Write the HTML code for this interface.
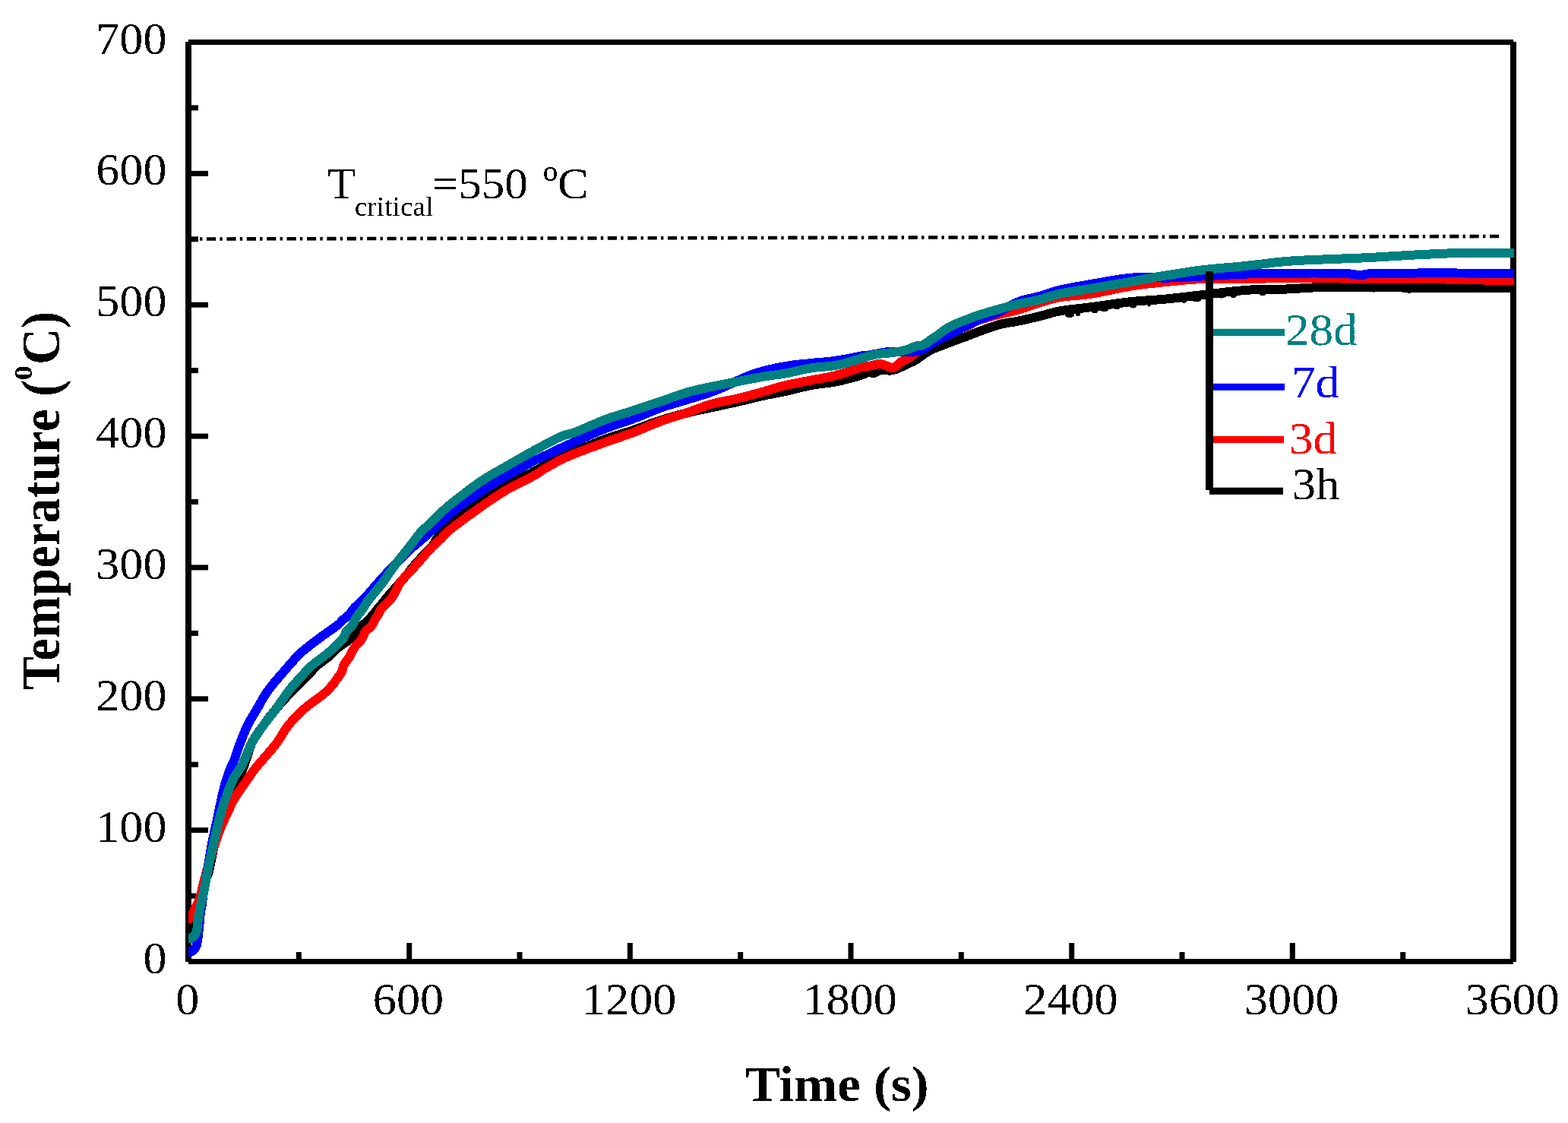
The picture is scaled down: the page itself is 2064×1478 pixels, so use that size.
<!DOCTYPE html><html><head><meta charset="utf-8"><title>Temperature vs Time</title>
<style>html,body{margin:0;padding:0;background:#fff;}svg{display:block;}text{font-family:"Liberation Serif","Times New Roman",serif;}</style></head><body>
<svg width="2064" height="1478" viewBox="0 0 2064 1478">
<rect width="2064" height="1478" fill="#fff"/>
<defs><clipPath id="pc"><rect x="248.0" y="0" width="1745.5" height="1478"/></clipPath><filter id="crisp" x="-5%" y="-20%" width="110%" height="140%"><feComponentTransfer><feFuncA type="discrete" tableValues="0 1"/></feComponentTransfer></filter></defs>
<g fill="#000">
<rect x="244" y="55" width="8" height="1211"/>
<rect x="248" y="52" width="1744" height="7"/>
<rect x="1988" y="55" width="8" height="1211"/>
<rect x="248" y="1262" width="1744" height="7"/>
<rect x="252" y="1175.6" width="9" height="7"/>
<rect x="252" y="1089.1" width="22" height="7"/>
<rect x="252" y="1002.7" width="9" height="7"/>
<rect x="252" y="916.3" width="22" height="7"/>
<rect x="252" y="829.9" width="9" height="7"/>
<rect x="252" y="743.4" width="22" height="7"/>
<rect x="252" y="657.0" width="9" height="7"/>
<rect x="252" y="570.6" width="22" height="7"/>
<rect x="252" y="484.1" width="9" height="7"/>
<rect x="252" y="397.7" width="22" height="7"/>
<rect x="252" y="311.3" width="9" height="7"/>
<rect x="252" y="224.9" width="22" height="7"/>
<rect x="252" y="138.4" width="9" height="7"/>
<rect x="389.8" y="1253" width="7" height="9"/>
<rect x="535.2" y="1241" width="7" height="21"/>
<rect x="680.5" y="1253" width="7" height="9"/>
<rect x="825.8" y="1241" width="7" height="21"/>
<rect x="971.2" y="1253" width="7" height="9"/>
<rect x="1116.5" y="1241" width="7" height="21"/>
<rect x="1261.8" y="1253" width="7" height="9"/>
<rect x="1407.2" y="1241" width="7" height="21"/>
<rect x="1552.5" y="1253" width="7" height="9"/>
<rect x="1697.8" y="1241" width="7" height="21"/>
<rect x="1843.2" y="1253" width="7" height="9"/>
</g>
<g filter="url(#crisp)">
<g fill="#000">
<text transform="translate(219.50,1280.50) scale(1.0530,1)" font-size="59.00" text-anchor="end">0</text>
<text transform="translate(219.50,1107.64) scale(1.0530,1)" font-size="59.00" text-anchor="end">100</text>
<text transform="translate(219.50,934.79) scale(1.0530,1)" font-size="59.00" text-anchor="end">200</text>
<text transform="translate(219.50,761.93) scale(1.0530,1)" font-size="59.00" text-anchor="end">300</text>
<text transform="translate(219.50,589.07) scale(1.0530,1)" font-size="59.00" text-anchor="end">400</text>
<text transform="translate(219.50,416.21) scale(1.0530,1)" font-size="59.00" text-anchor="end">500</text>
<text transform="translate(219.50,243.36) scale(1.0530,1)" font-size="59.00" text-anchor="end">600</text>
<text transform="translate(219.50,70.50) scale(1.0530,1)" font-size="59.00" text-anchor="end">700</text>
<text transform="translate(246.80,1335.00) scale(1.0530,1)" font-size="59.00" text-anchor="middle">0</text>
<text transform="translate(537.47,1335.00) scale(1.0530,1)" font-size="59.00" text-anchor="middle">600</text>
<text transform="translate(828.13,1335.00) scale(1.0530,1)" font-size="59.00" text-anchor="middle">1200</text>
<text transform="translate(1118.80,1335.00) scale(1.0530,1)" font-size="59.00" text-anchor="middle">1800</text>
<text transform="translate(1409.47,1335.00) scale(1.0530,1)" font-size="59.00" text-anchor="middle">2400</text>
<text transform="translate(1700.13,1335.00) scale(1.0530,1)" font-size="59.00" text-anchor="middle">3000</text>
<text transform="translate(1990.80,1335.00) scale(1.0530,1)" font-size="59.00" text-anchor="middle">3600</text>
</g>
<text transform="translate(981.00,1449.00) scale(1.0600,1)" font-size="65.00" text-anchor="start" font-weight="bold">Time (s)</text>
<text transform="translate(78.00,908.00) rotate(-90) scale(0.9370,1.0200)" font-size="71.00" font-weight="bold">Temperature (<tspan dx="21.00">C)</tspan></text>
<text transform="translate(41.70,500.50) rotate(-90) scale(1.3000,1.1000)" font-size="30.00" font-weight="bold">0</text>
<text transform="translate(431.00,261.00) scale(1.0520,1)" font-size="58.00">T<tspan font-size="35.50" dx="-1.4" dy="23.00">critical</tspan><tspan dx="-1.5" dy="-23.00">=550 </tspan><tspan font-size="38.00" dy="-23.00" dx="4.30">o</tspan><tspan dy="23.00" dx="-0.50">C</tspan></text>
</g>
<line x1="263" y1="314.5" x2="1973.2" y2="311" stroke="#000" stroke-width="4.6" stroke-dasharray="3.4 5.6 12.2 5.19"/>
<g clip-path="url(#pc)" shape-rendering="crispEdges" fill="none" stroke-width="12" stroke-linejoin="round" stroke-linecap="butt">
<path d="M238.0 1227.0 L239.2 1227.2 L240.8 1227.5 L242.8 1227.8 L244.7 1228.1 L246.6 1228.2 L248.0 1228.0 L249.0 1227.6 L249.8 1227.0 L250.4 1226.2 L250.9 1225.3 L251.4 1224.2 L252.0 1223.0 L252.7 1221.5 L253.4 1219.9 L254.1 1218.1 L254.7 1216.1 L255.4 1214.1 L256.0 1212.0 L256.6 1209.8 L257.1 1207.5 L257.6 1205.1 L258.0 1202.6 L258.5 1200.3 L259.0 1198.0 L259.5 1195.9 L260.0 1193.8 L260.4 1191.8 L260.9 1189.8 L261.4 1187.9 L262.0 1186.0 L262.6 1184.3 L263.3 1182.7 L263.9 1181.2 L264.6 1179.7 L265.3 1178.0 L266.0 1176.0 L266.7 1173.7 L267.3 1171.0 L267.9 1168.2 L268.6 1165.4 L269.3 1162.6 L270.0 1160.0 L270.8 1157.7 L271.6 1155.6 L272.4 1153.6 L273.3 1151.5 L274.2 1149.1 L275.0 1146.2 L275.8 1142.7 L276.6 1138.9 L277.5 1134.7 L278.3 1130.3 L279.1 1126.0 L280.0 1121.8 L280.9 1117.7 L281.8 1113.7 L282.7 1109.6 L283.6 1105.5 L284.5 1101.5 L285.5 1097.4 L286.4 1093.3 L287.4 1089.3 L288.3 1085.2 L289.3 1081.2 L290.4 1077.2 L291.5 1073.1 L292.7 1069.0 L293.9 1064.7 L295.2 1060.5 L296.6 1056.4 L298.0 1052.4 L299.5 1048.7 L301.1 1045.2 L302.9 1042.0 L304.8 1038.9 L306.7 1035.9 L308.4 1033.1 L310.0 1030.5 L311.4 1028.2 L312.6 1026.1 L313.7 1024.2 L314.8 1022.4 L315.9 1020.3 L317.0 1018.0 L318.2 1015.4 L319.3 1012.6 L320.5 1009.6 L321.6 1006.5 L322.8 1003.3 L324.0 1000.0 L325.1 996.6 L326.2 993.0 L327.2 989.3 L328.4 985.6 L329.7 981.8 L331.4 978.0 L333.4 974.2 L335.7 970.4 L338.2 966.6 L340.9 962.7 L343.6 958.8 L346.4 955.0 L349.2 951.2 L352.0 947.3 L354.9 943.5 L357.9 939.7 L361.0 935.8 L364.2 932.0 L367.5 928.1 L370.9 924.3 L374.4 920.4 L377.9 916.5 L381.5 912.7 L385.0 909.0 L388.6 905.3 L392.3 901.5 L396.1 897.8 L399.7 894.3 L403.0 891.0 L406.0 888.0 L408.5 885.4 L410.5 883.2 L412.3 881.2 L414.0 879.4 L415.7 877.5 L417.8 875.6 L420.2 873.6 L422.7 871.7 L425.4 869.8 L428.0 867.8 L430.6 865.9 L433.0 864.0 L435.2 862.1 L437.1 860.1 L439.0 858.1 L440.9 856.2 L443.0 854.2 L445.2 852.3 L447.8 850.3 L450.6 848.3 L453.5 846.3 L456.4 844.4 L459.1 842.5 L461.5 840.7 L463.5 839.0 L465.3 837.4 L466.9 835.9 L468.4 834.4 L469.7 832.9 L471.0 831.5 L472.1 830.1 L473.0 828.8 L473.8 827.6 L474.6 826.3 L475.5 825.1 L476.5 823.8 L477.8 822.5 L479.2 821.2 L480.7 819.9 L482.2 818.6 L483.7 817.3 L485.0 816.0 L486.2 814.7 L487.4 813.4 L488.4 812.1 L489.5 810.9 L490.5 809.6 L491.6 808.3 L492.7 807.0 L493.7 805.7 L494.7 804.4 L495.7 803.1 L496.7 801.8 L497.8 800.5 L498.9 799.2 L500.0 797.9 L501.1 796.6 L502.2 795.4 L503.3 794.1 L504.4 792.8 L505.3 791.7 L505.9 790.8 L506.5 790.0 L507.4 788.9 L508.7 787.3 L510.6 785.0 L513.5 781.7 L517.1 777.6 L521.2 773.0 L525.3 768.3 L529.2 763.8 L532.5 760.0 L535.2 756.8 L537.5 753.9 L539.5 751.3 L541.4 748.9 L543.2 746.7 L545.0 744.5 L546.8 742.4 L548.5 740.5 L550.0 738.7 L551.5 737.0 L553.0 735.5 L554.3 734.0 L555.5 732.7 L556.5 731.6 L557.4 730.6 L558.3 729.7 L559.3 728.6 L560.5 727.4 L561.8 726.1 L563.2 724.8 L564.7 723.4 L566.2 721.9 L567.8 720.1 L569.5 718.0 L571.2 715.5 L572.8 712.8 L574.4 709.7 L576.3 706.6 L578.4 703.4 L581.0 700.3 L583.9 697.3 L587.1 694.3 L590.7 691.2 L594.5 688.1 L598.6 684.9 L603.0 681.5 L607.9 678.0 L613.2 674.2 L618.9 670.4 L624.7 666.6 L630.4 662.7 L636.0 659.0 L641.4 655.3 L646.7 651.5 L652.1 647.8 L657.4 644.2 L662.7 640.7 L668.0 637.5 L673.5 634.5 L679.1 631.7 L684.8 629.1 L690.2 626.6 L695.4 624.3 L700.0 622.0 L704.0 619.9 L707.6 618.0 L710.8 616.2 L713.8 614.5 L716.8 612.8 L720.0 611.0 L723.4 609.1 L726.7 607.2 L730.1 605.2 L733.5 603.3 L736.8 601.6 L740.0 600.0 L742.9 598.8 L745.4 597.8 L747.9 597.0 L750.6 596.1 L753.9 595.0 L758.0 593.5 L763.2 591.4 L769.2 589.0 L775.8 586.3 L782.6 583.5 L789.4 580.8 L796.0 578.3 L802.4 576.1 L808.7 574.0 L815.1 572.0 L821.5 570.0 L827.8 568.1 L834.0 566.0 L840.1 563.8 L846.2 561.6 L852.2 559.3 L858.2 557.1 L864.1 555.0 L870.0 553.0 L875.8 551.2 L881.5 549.5 L887.1 547.9 L892.7 546.4 L898.4 544.9 L904.0 543.5 L909.7 542.1 L915.3 540.8 L921.0 539.6 L926.7 538.4 L932.3 537.2 L938.0 536.0 L943.7 534.8 L949.3 533.6 L955.0 532.3 L960.7 531.1 L966.3 529.9 L972.0 528.6 L977.7 527.3 L983.6 525.9 L989.4 524.4 L995.1 523.0 L1000.7 521.7 L1006.0 520.5 L1010.9 519.5 L1015.6 518.6 L1020.0 517.7 L1024.4 516.9 L1029.1 516.0 L1034.0 515.0 L1039.3 513.8 L1044.9 512.4 L1050.6 511.0 L1056.4 509.5 L1062.3 508.2 L1068.0 507.0 L1073.7 506.0 L1079.3 505.3 L1085.0 504.6 L1090.7 503.9 L1096.3 503.0 L1102.0 502.0 L1108.0 500.7 L1114.4 499.1 L1120.8 497.4 L1126.8 495.8 L1132.0 494.3 L1136.0 493.0 L1138.5 492.0 L1139.7 491.1 L1140.2 490.3 L1140.3 489.7 L1140.5 489.3 L1141.2 489.0 L1142.4 489.1 L1143.8 489.4 L1145.3 490.0 L1146.8 490.6 L1148.4 490.9 L1150.0 491.0 L1151.5 490.6 L1153.0 490.0 L1154.5 489.1 L1156.2 488.3 L1158.0 487.5 L1160.0 487.0 L1162.2 486.9 L1164.7 487.1 L1167.2 487.3 L1170.0 487.6 L1172.9 487.5 L1176.0 487.0 L1179.5 485.9 L1183.4 484.3 L1187.6 482.5 L1191.6 480.6 L1195.1 478.8 L1198.0 477.5 L1200.0 476.6 L1201.3 476.0 L1202.2 475.6 L1203.0 475.2 L1203.8 474.7 L1205.0 474.0 L1206.5 473.0 L1208.1 471.9 L1209.8 470.7 L1211.5 469.4 L1213.3 468.2 L1215.0 467.0 L1216.7 465.8 L1218.5 464.7 L1220.2 463.5 L1222.0 462.4 L1223.8 461.3 L1225.5 460.4 L1227.2 459.6 L1228.9 458.9 L1230.6 458.2 L1232.2 457.6 L1233.9 457.0 L1235.6 456.4 L1237.3 455.7 L1239.0 455.1 L1240.7 454.4 L1242.4 453.8 L1244.1 453.1 L1245.8 452.5 L1247.5 451.8 L1249.2 451.2 L1251.0 450.5 L1252.7 449.8 L1254.3 449.2 L1255.9 448.6 L1257.4 448.0 L1258.8 447.5 L1260.2 447.0 L1261.5 446.5 L1262.8 446.0 L1264.0 445.6 L1265.0 445.2 L1265.7 445.0 L1266.4 444.8 L1267.3 444.5 L1268.4 444.1 L1270.0 443.5 L1272.1 442.7 L1274.5 441.8 L1277.2 440.7 L1280.2 439.6 L1283.5 438.3 L1287.0 437.0 L1290.9 435.5 L1295.3 433.9 L1299.9 432.2 L1304.6 430.5 L1309.4 428.9 L1314.0 427.5 L1318.5 426.4 L1323.0 425.5 L1327.5 424.7 L1332.0 424.0 L1336.5 423.3 L1341.0 422.4 L1345.5 421.5 L1350.0 420.5 L1354.4 419.5 L1358.9 418.4 L1363.4 417.4 L1368.0 416.3 L1372.4 415.2 L1376.7 413.9 L1381.1 412.7 L1385.6 411.5 L1390.5 410.3 L1396.0 409.2 L1402.1 408.2 L1408.7 407.4 L1415.7 406.6 L1423.0 405.8 L1430.4 404.9 L1438.0 404.0 L1445.8 402.9 L1453.9 401.8 L1462.1 400.6 L1470.5 399.4 L1478.8 398.3 L1487.0 397.3 L1495.0 396.5 L1503.0 395.9 L1511.0 395.3 L1519.0 394.8 L1527.0 394.2 L1535.0 393.5 L1543.0 392.7 L1551.0 391.8 L1558.9 390.9 L1567.0 389.9 L1575.3 389.0 L1584.0 388.0 L1593.1 386.9 L1602.7 385.8 L1612.5 384.6 L1622.3 383.5 L1632.0 382.6 L1641.2 381.8 L1650.0 381.3 L1658.5 381.1 L1666.9 381.0 L1675.1 380.9 L1683.3 380.8 L1691.6 380.6 L1699.7 380.2 L1707.7 379.7 L1715.6 379.2 L1723.6 378.7 L1732.0 378.3 L1741.0 378.0 L1750.6 377.8 L1760.7 377.8 L1771.2 377.8 L1781.8 377.9 L1792.5 377.9 L1803.0 378.0 L1813.4 378.1 L1823.9 378.2 L1834.4 378.3 L1845.0 378.5 L1855.5 378.6 L1866.0 378.7 L1876.5 378.8 L1887.0 378.9 L1897.4 378.9 L1907.9 379.0 L1918.4 379.0 L1929.0 379.0 L1940.3 379.0 L1952.6 378.9 L1964.9 378.9 L1976.4 378.8 L1986.0 378.7 L1993.0 378.7" stroke="#000000"/>
<g fill="#000" stroke="none"><ellipse cx="1408.0" cy="414.2" rx="6.3" ry="4"/><ellipse cx="1419.0" cy="412.2" rx="3.0" ry="4"/><ellipse cx="1441.0" cy="408.4" rx="4.4" ry="4"/><ellipse cx="1453.5" cy="406.4" rx="6.3" ry="4"/><ellipse cx="1470.0" cy="403.5" rx="4.4" ry="4"/><ellipse cx="1491.3" cy="401.6" rx="5.3" ry="4"/><ellipse cx="1512.5" cy="399.6" rx="2.5" ry="4"/><ellipse cx="1543.0" cy="394.8" rx="2.0" ry="4"/><ellipse cx="1558.6" cy="394.8" rx="3.9" ry="4"/><ellipse cx="1575.0" cy="393.5" rx="6.8" ry="4"/><ellipse cx="1607.7" cy="388.6" rx="5.8" ry="4"/><ellipse cx="1623.5" cy="388.0" rx="5.0" ry="4"/><ellipse cx="1662.0" cy="385.4" rx="4.5" ry="4"/><ellipse cx="1808.0" cy="381.0" rx="2.5" ry="4"/><ellipse cx="1855.0" cy="381.7" rx="8.0" ry="4"/><ellipse cx="1913.0" cy="381.0" rx="3.0" ry="4"/><ellipse cx="1936.5" cy="381.0" rx="2.5" ry="4"/></g>
<path d="M238.0 1209.5 L239.2 1209.5 L240.8 1209.6 L242.8 1209.7 L244.7 1209.8 L246.6 1209.7 L248.0 1209.5 L249.0 1209.2 L249.8 1208.7 L250.4 1208.2 L251.0 1207.6 L251.5 1206.8 L252.0 1206.0 L252.6 1205.0 L253.1 1203.9 L253.6 1202.7 L254.0 1201.4 L254.5 1200.1 L255.0 1199.0 L255.5 1197.9 L256.0 1196.9 L256.5 1195.9 L257.0 1195.0 L257.5 1194.0 L258.0 1193.0 L258.5 1192.0 L259.0 1191.0 L259.6 1189.9 L260.1 1188.9 L260.6 1187.9 L261.0 1187.0 L261.4 1186.1 L261.7 1185.3 L262.1 1184.6 L262.4 1183.8 L262.7 1182.9 L263.0 1182.0 L263.3 1181.0 L263.6 1180.0 L263.9 1179.0 L264.3 1177.9 L264.6 1176.5 L265.0 1175.0 L265.4 1173.3 L265.8 1171.4 L266.2 1169.4 L266.7 1167.2 L267.3 1164.8 L268.0 1162.0 L268.8 1158.9 L269.7 1155.4 L270.7 1151.7 L271.8 1147.8 L272.9 1143.9 L274.0 1140.0 L275.1 1136.1 L276.3 1132.1 L277.5 1128.0 L278.7 1123.9 L280.0 1119.8 L281.3 1115.7 L282.6 1111.7 L284.0 1107.6 L285.3 1103.6 L286.7 1099.5 L288.2 1095.5 L289.8 1091.4 L291.5 1087.3 L293.3 1083.0 L295.2 1078.8 L297.1 1074.7 L298.9 1070.7 L300.7 1067.0 L302.3 1063.6 L303.8 1060.4 L305.2 1057.5 L306.7 1054.6 L308.3 1051.7 L310.0 1048.7 L311.9 1045.7 L313.9 1042.6 L316.0 1039.6 L318.2 1036.6 L320.4 1033.5 L322.5 1030.5 L324.7 1027.3 L327.0 1023.9 L329.4 1020.6 L331.6 1017.4 L333.6 1014.5 L335.3 1012.2 L336.3 1010.8 L336.7 1010.2 L336.9 1010.0 L337.3 1009.6 L338.2 1008.6 L340.0 1006.5 L343.0 1003.0 L347.0 998.5 L351.5 993.3 L356.1 987.9 L360.5 982.7 L364.2 978.0 L367.1 973.8 L369.6 969.9 L371.8 966.2 L374.0 962.5 L376.4 958.8 L379.2 955.0 L382.4 951.2 L385.8 947.3 L389.4 943.5 L393.3 939.7 L397.3 935.8 L401.5 932.0 L406.1 928.2 L411.2 924.3 L416.5 920.5 L421.7 916.7 L426.6 912.8 L430.9 909.0 L434.7 905.0 L438.2 900.9 L441.4 896.7 L444.2 892.7 L446.7 889.1 L448.7 886.0 L450.1 883.6 L450.8 881.6 L451.2 880.1 L451.4 878.7 L451.7 877.3 L452.4 875.6 L453.5 873.7 L454.8 871.8 L456.2 869.9 L457.6 867.9 L459.0 866.0 L460.3 864.0 L461.4 862.1 L462.4 860.1 L463.3 858.1 L464.3 856.2 L465.4 854.2 L466.6 852.3 L468.1 850.3 L469.8 848.3 L471.7 846.3 L473.5 844.4 L475.1 842.5 L476.5 840.7 L477.5 839.0 L478.2 837.4 L478.8 835.9 L479.4 834.4 L480.0 832.9 L480.9 831.5 L482.1 830.1 L483.4 828.8 L484.9 827.6 L486.4 826.3 L487.7 825.1 L488.9 823.8 L489.8 822.5 L490.6 821.2 L491.3 819.9 L491.9 818.6 L492.6 817.3 L493.3 816.0 L494.1 814.7 L494.9 813.4 L495.8 812.1 L496.6 810.9 L497.4 809.6 L498.2 808.3 L498.8 807.1 L499.3 805.9 L499.8 804.8 L500.3 803.6 L501.2 802.2 L502.4 800.5 L504.1 798.6 L506.2 796.6 L508.6 794.4 L511.1 792.0 L513.5 789.4 L515.8 786.6 L517.9 783.4 L519.8 779.9 L521.7 776.2 L523.6 772.4 L525.8 768.6 L528.3 764.9 L531.2 761.3 L534.4 757.7 L537.7 754.1 L541.2 750.5 L544.7 746.9 L548.0 743.3 L551.3 739.6 L554.6 735.7 L557.9 731.9 L561.1 728.2 L564.2 724.7 L567.0 721.6 L569.6 718.9 L572.1 716.6 L574.5 714.5 L576.7 712.6 L578.7 710.8 L580.6 709.0 L582.2 707.3 L583.6 705.8 L584.8 704.4 L586.0 703.0 L587.3 701.6 L589.0 700.0 L590.8 698.4 L592.5 697.0 L594.5 695.4 L596.7 693.7 L599.5 691.6 L603.0 689.0 L607.4 685.7 L612.6 681.9 L618.4 677.6 L624.4 673.3 L630.3 669.0 L636.0 665.0 L641.4 661.3 L646.7 657.6 L652.1 654.0 L657.4 650.5 L662.7 647.2 L668.0 644.0 L673.5 641.0 L679.1 638.0 L684.8 635.3 L690.2 632.6 L695.4 630.0 L700.0 627.6 L704.0 625.3 L707.6 623.1 L710.8 621.1 L713.8 619.1 L716.8 617.1 L720.0 615.2 L723.4 613.3 L726.7 611.4 L730.1 609.5 L733.5 607.7 L736.8 606.0 L740.0 604.4 L742.9 603.0 L745.4 601.8 L747.9 600.7 L750.6 599.5 L753.9 598.1 L758.0 596.5 L763.2 594.5 L769.2 592.2 L775.8 589.7 L782.6 587.2 L789.4 584.7 L796.0 582.3 L802.4 580.0 L808.7 577.9 L815.1 575.7 L821.5 573.5 L827.8 571.3 L834.0 569.0 L840.1 566.6 L846.2 564.1 L852.2 561.5 L858.2 559.0 L864.1 556.6 L870.0 554.3 L875.8 552.2 L881.5 550.4 L887.1 548.6 L892.7 546.8 L898.4 545.0 L904.0 543.2 L909.7 541.2 L915.3 539.1 L921.0 537.1 L926.7 535.0 L932.3 533.1 L938.0 531.4 L943.7 530.0 L949.3 528.7 L955.0 527.6 L960.7 526.6 L966.3 525.5 L972.0 524.2 L977.7 522.8 L983.6 521.3 L989.4 519.7 L995.1 518.1 L1000.7 516.6 L1006.0 515.1 L1010.9 513.7 L1015.6 512.3 L1020.0 511.0 L1024.4 509.6 L1029.1 508.3 L1034.0 507.1 L1039.3 505.9 L1044.9 504.8 L1050.6 503.7 L1056.4 502.6 L1062.3 501.5 L1068.0 500.4 L1073.7 499.3 L1079.3 498.3 L1085.0 497.3 L1090.7 496.2 L1096.3 495.0 L1102.0 493.6 L1108.0 491.9 L1114.4 489.9 L1120.8 487.7 L1126.8 485.7 L1132.0 483.9 L1136.0 482.7 L1138.4 482.1 L1139.5 482.0 L1139.7 482.1 L1139.7 482.4 L1140.1 482.6 L1141.2 482.5 L1143.3 482.0 L1145.9 481.4 L1148.9 480.6 L1151.8 479.9 L1154.6 479.3 L1157.0 479.0 L1158.9 479.0 L1160.5 479.2 L1161.9 479.6 L1163.2 480.1 L1164.5 480.5 L1166.0 481.0 L1167.6 481.6 L1169.2 482.3 L1170.9 483.1 L1172.6 483.8 L1174.3 484.1 L1176.0 484.0 L1177.7 483.3 L1179.4 482.1 L1181.2 480.6 L1182.9 478.9 L1184.7 477.3 L1186.5 476.0 L1188.3 475.0 L1190.0 474.2 L1191.7 473.4 L1193.6 472.6 L1195.6 471.5 L1198.0 470.0 L1200.7 468.0 L1203.6 465.6 L1206.8 463.0 L1210.1 460.3 L1213.5 457.5 L1217.0 455.0 L1220.5 452.6 L1224.1 450.1 L1227.7 447.8 L1231.6 445.4 L1235.6 443.1 L1240.0 441.0 L1244.9 439.0 L1250.5 437.0 L1256.2 435.1 L1261.9 433.3 L1267.1 431.6 L1271.5 430.0 L1274.9 428.5 L1277.4 427.1 L1279.5 425.8 L1281.6 424.6 L1283.9 423.3 L1287.0 422.0 L1290.8 420.6 L1295.1 419.3 L1299.8 417.9 L1304.6 416.6 L1309.4 415.2 L1314.0 414.0 L1318.5 412.9 L1323.0 411.8 L1327.5 410.8 L1332.0 409.8 L1336.5 408.7 L1341.0 407.5 L1345.5 406.1 L1350.0 404.7 L1354.4 403.1 L1358.9 401.6 L1363.4 400.0 L1368.0 398.6 L1372.4 397.2 L1376.7 395.9 L1381.1 394.5 L1385.6 393.3 L1390.5 392.1 L1396.0 391.0 L1402.1 390.1 L1408.7 389.5 L1415.7 388.9 L1423.0 388.3 L1430.4 387.5 L1438.0 386.5 L1445.8 385.1 L1453.9 383.5 L1462.1 381.7 L1470.5 379.9 L1478.8 378.3 L1487.0 376.8 L1495.0 375.6 L1503.0 374.5 L1511.0 373.5 L1519.0 372.7 L1527.0 371.8 L1535.0 371.0 L1543.0 370.2 L1551.0 369.4 L1558.9 368.6 L1567.0 368.0 L1575.3 367.4 L1584.0 367.0 L1593.1 366.8 L1602.7 366.7 L1612.5 366.7 L1622.3 366.8 L1632.0 366.8 L1641.2 366.8 L1650.0 366.7 L1658.5 366.6 L1666.9 366.5 L1675.1 366.4 L1683.3 366.3 L1691.6 366.2 L1699.7 366.2 L1707.7 366.1 L1715.6 366.1 L1723.6 366.1 L1732.0 366.1 L1741.0 366.2 L1750.6 366.3 L1760.7 366.4 L1771.2 366.6 L1781.8 366.8 L1792.5 366.9 L1803.0 367.0 L1813.4 367.0 L1823.9 367.0 L1834.4 367.0 L1845.0 367.0 L1855.5 367.0 L1866.0 367.0 L1876.5 367.1 L1887.0 367.2 L1897.4 367.4 L1907.9 367.6 L1918.4 367.8 L1929.0 368.0 L1940.3 368.2 L1952.6 368.5 L1964.9 368.8 L1976.4 369.1 L1986.0 369.3 L1993.0 369.5" stroke="#ff0000"/>
<path d="M238.0 1253.5 L239.1 1253.5 L240.7 1253.6 L242.6 1253.7 L244.6 1253.7 L246.4 1253.6 L248.0 1253.5 L249.3 1253.3 L250.4 1252.9 L251.4 1252.6 L252.3 1252.1 L253.2 1251.6 L254.0 1251.0 L254.8 1250.3 L255.6 1249.6 L256.2 1248.8 L256.9 1248.0 L257.5 1247.0 L258.0 1246.0 L258.5 1244.9 L258.8 1243.7 L259.2 1242.4 L259.4 1241.1 L259.7 1239.6 L260.0 1238.0 L260.3 1236.3 L260.5 1234.4 L260.8 1232.4 L261.0 1230.4 L261.3 1228.2 L261.5 1226.0 L261.8 1223.6 L262.0 1221.1 L262.3 1218.4 L262.5 1215.8 L262.8 1213.3 L263.0 1211.0 L263.2 1208.9 L263.3 1207.0 L263.5 1205.2 L263.6 1203.4 L263.8 1201.7 L264.0 1200.0 L264.3 1198.3 L264.6 1196.6 L265.0 1194.9 L265.4 1193.3 L265.7 1191.7 L266.0 1190.0 L266.2 1188.3 L266.4 1186.6 L266.5 1184.9 L266.7 1183.2 L266.8 1181.6 L267.0 1180.0 L267.2 1178.9 L267.3 1178.3 L267.4 1177.8 L267.6 1176.8 L268.0 1175.0 L268.5 1172.0 L269.3 1167.2 L270.4 1161.0 L271.6 1154.0 L272.8 1146.7 L274.0 1139.9 L275.0 1134.0 L275.8 1129.2 L276.5 1125.0 L277.1 1121.2 L277.6 1117.6 L278.3 1113.9 L279.0 1110.0 L279.8 1105.9 L280.7 1101.7 L281.7 1097.5 L282.6 1093.3 L283.6 1089.1 L284.5 1085.0 L285.4 1080.9 L286.2 1076.9 L287.0 1073.0 L287.8 1069.0 L288.6 1065.0 L289.5 1061.0 L290.4 1056.9 L291.2 1052.9 L292.1 1048.8 L293.0 1044.7 L293.9 1040.6 L295.0 1036.5 L296.2 1032.3 L297.6 1027.8 L299.0 1023.4 L300.5 1019.2 L301.8 1015.3 L303.0 1012.0 L304.0 1009.5 L304.8 1007.8 L305.5 1006.4 L306.2 1005.1 L307.0 1003.4 L308.0 1001.0 L309.2 997.9 L310.4 994.2 L311.8 990.2 L313.2 986.1 L314.6 982.0 L316.1 978.0 L317.6 974.2 L319.1 970.3 L320.6 966.5 L322.2 962.7 L323.9 958.8 L325.7 955.0 L327.7 951.2 L329.8 947.3 L332.0 943.5 L334.3 939.7 L336.6 935.8 L338.9 932.0 L341.1 928.2 L343.3 924.3 L345.4 920.5 L347.7 916.7 L350.1 912.8 L352.7 909.0 L355.6 905.1 L358.9 901.0 L362.2 897.0 L365.6 893.1 L368.8 889.4 L371.7 886.0 L374.3 883.0 L376.7 880.2 L378.9 877.6 L381.0 875.2 L383.0 872.9 L385.0 870.7 L386.8 868.7 L388.4 866.8 L389.9 865.2 L391.4 863.5 L393.1 861.8 L395.0 860.0 L397.2 858.1 L399.4 856.1 L401.9 854.2 L404.4 852.1 L407.2 850.0 L410.0 847.8 L413.1 845.4 L416.5 842.9 L420.0 840.3 L423.5 837.7 L426.9 835.3 L430.0 833.0 L432.9 830.9 L435.7 829.0 L438.4 827.1 L440.8 825.4 L443.1 823.8 L445.0 822.3 L446.5 821.0 L447.6 819.9 L448.5 819.0 L449.3 818.0 L450.2 817.1 L451.3 816.0 L452.7 814.8 L454.2 813.5 L455.8 812.2 L457.4 810.9 L458.9 809.6 L460.2 808.3 L461.3 807.0 L462.3 805.7 L463.1 804.4 L464.0 803.1 L464.9 801.8 L466.0 800.5 L467.2 799.2 L468.6 797.9 L470.0 796.6 L471.4 795.4 L472.8 794.1 L474.2 792.8 L475.4 791.7 L476.3 790.8 L477.2 789.9 L478.4 788.8 L479.8 787.2 L481.9 785.0 L484.7 781.9 L488.0 778.1 L491.7 773.8 L495.6 769.3 L499.4 765.0 L503.0 761.0 L506.4 757.3 L509.8 753.6 L513.2 750.1 L516.5 746.7 L519.5 743.5 L522.3 740.7 L524.7 738.3 L526.9 736.1 L528.8 734.3 L530.6 732.6 L532.3 730.9 L534.0 729.3 L535.6 727.7 L537.1 726.2 L538.5 724.8 L539.8 723.5 L541.2 722.1 L542.6 720.8 L544.1 719.5 L545.5 718.3 L547.0 717.0 L548.5 715.8 L550.0 714.5 L551.6 713.2 L553.1 711.9 L554.6 710.7 L556.1 709.4 L557.7 708.0 L559.7 706.3 L562.0 704.2 L564.8 701.6 L568.1 698.5 L571.7 695.1 L575.4 691.6 L579.1 688.2 L582.6 685.0 L585.9 682.1 L588.9 679.4 L592.0 676.7 L595.3 674.0 L598.9 671.2 L603.0 668.0 L607.8 664.5 L613.1 660.6 L618.8 656.7 L624.6 652.6 L630.4 648.7 L636.0 645.0 L641.4 641.5 L646.7 638.2 L652.1 634.9 L657.4 631.7 L662.7 628.6 L668.0 625.5 L673.5 622.4 L679.1 619.2 L684.8 616.1 L690.2 613.2 L695.4 610.4 L700.0 608.0 L704.0 606.0 L707.6 604.2 L710.8 602.8 L713.8 601.4 L716.8 600.0 L720.0 598.5 L723.4 596.9 L726.7 595.3 L730.1 593.7 L733.5 592.1 L736.8 590.5 L740.0 589.0 L742.9 587.7 L745.4 586.5 L747.9 585.4 L750.6 584.2 L753.9 582.7 L758.0 580.9 L763.2 578.6 L769.2 575.9 L775.8 572.9 L782.6 569.9 L789.4 567.0 L796.0 564.3 L802.4 561.9 L808.7 559.7 L815.1 557.5 L821.5 555.4 L827.8 553.2 L834.0 551.0 L840.3 548.6 L846.7 546.0 L853.1 543.3 L859.2 540.8 L864.9 538.5 L870.0 536.5 L874.1 535.1 L877.1 534.1 L879.7 533.3 L882.5 532.6 L886.1 531.5 L891.2 530.0 L897.9 527.9 L905.9 525.6 L914.6 522.9 L923.8 520.1 L932.9 517.1 L941.6 514.0 L950.0 510.6 L958.4 506.8 L966.8 502.9 L975.0 499.1 L983.1 495.5 L991.0 492.5 L998.6 490.0 L1006.1 487.9 L1013.5 486.2 L1020.6 484.6 L1027.4 483.2 L1034.0 482.0 L1040.2 481.0 L1046.0 480.2 L1051.6 479.6 L1057.0 479.1 L1062.4 478.6 L1068.0 478.0 L1073.7 477.4 L1079.3 476.9 L1085.0 476.4 L1090.7 475.9 L1096.3 475.3 L1102.0 474.5 L1108.0 473.5 L1114.4 472.3 L1120.8 471.0 L1126.8 469.8 L1132.0 468.7 L1136.0 468.0 L1138.3 467.7 L1139.0 467.7 L1138.9 467.9 L1138.8 468.1 L1139.3 468.2 L1141.2 468.0 L1144.6 467.4 L1149.0 466.5 L1154.1 465.5 L1159.4 464.5 L1164.9 463.6 L1170.0 463.0 L1175.1 462.8 L1180.4 462.8 L1185.7 462.9 L1190.9 463.1 L1195.7 463.2 L1200.0 463.0 L1203.7 462.6 L1207.0 462.0 L1209.9 461.4 L1212.5 460.6 L1214.8 459.8 L1217.0 459.0 L1218.8 458.1 L1220.2 457.1 L1221.4 456.1 L1222.4 455.1 L1223.6 454.0 L1225.0 453.0 L1226.7 452.0 L1228.5 451.0 L1230.4 449.9 L1232.3 448.9 L1234.2 447.9 L1236.0 447.0 L1237.7 446.1 L1239.3 445.3 L1241.0 444.4 L1242.6 443.6 L1244.2 442.8 L1245.8 442.0 L1247.5 441.2 L1249.2 440.3 L1251.0 439.4 L1252.7 438.6 L1254.3 437.8 L1255.9 437.0 L1257.2 436.4 L1258.2 435.9 L1259.1 435.4 L1260.3 434.9 L1261.8 434.1 L1264.0 433.0 L1266.9 431.5 L1270.4 429.7 L1274.3 427.7 L1278.5 425.5 L1282.8 423.4 L1287.0 421.5 L1291.3 419.7 L1295.7 418.1 L1300.2 416.4 L1304.9 414.7 L1309.5 412.9 L1314.0 411.0 L1318.5 408.8 L1323.0 406.3 L1327.5 403.8 L1332.0 401.3 L1336.5 399.0 L1341.0 397.0 L1345.5 395.4 L1350.0 394.2 L1354.4 393.2 L1358.9 392.2 L1363.4 391.2 L1368.0 390.0 L1372.4 388.7 L1376.6 387.3 L1380.8 385.8 L1385.3 384.4 L1390.3 382.9 L1396.0 381.5 L1402.5 380.1 L1409.8 378.6 L1417.5 377.2 L1425.5 375.8 L1433.6 374.4 L1441.6 373.0 L1449.6 371.6 L1457.8 370.1 L1466.1 368.7 L1474.4 367.4 L1482.7 366.3 L1491.0 365.5 L1499.2 365.1 L1507.4 365.0 L1515.6 365.2 L1523.9 365.4 L1532.1 365.6 L1540.4 365.5 L1548.7 365.2 L1557.1 364.9 L1565.5 364.4 L1574.0 363.9 L1582.4 363.4 L1590.8 363.0 L1599.2 362.6 L1607.6 362.1 L1616.0 361.6 L1624.4 361.2 L1632.8 360.8 L1641.2 360.5 L1649.6 360.3 L1658.0 360.1 L1666.4 360.0 L1674.8 359.9 L1683.2 359.9 L1691.6 359.8 L1700.2 359.7 L1709.0 359.6 L1717.9 359.6 L1726.5 359.5 L1734.6 359.5 L1742.0 359.5 L1748.7 359.6 L1754.8 359.6 L1760.5 359.7 L1765.8 359.9 L1770.6 360.1 L1775.0 360.3 L1779.0 360.6 L1782.4 361.1 L1785.4 361.6 L1788.1 362.0 L1790.6 362.4 L1793.0 362.5 L1794.5 362.4 L1795.0 362.0 L1795.2 361.6 L1796.0 361.1 L1798.4 360.6 L1803.0 360.3 L1810.4 360.1 L1820.1 359.9 L1831.2 359.8 L1843.0 359.7 L1854.9 359.6 L1866.0 359.5 L1876.5 359.4 L1887.0 359.4 L1897.4 359.4 L1907.9 359.4 L1918.4 359.5 L1929.0 359.5 L1940.3 359.6 L1952.6 359.6 L1964.9 359.8 L1976.4 359.9 L1986.0 359.9 L1993.0 360.0" stroke="#0000ff"/>
<path d="M238.0 1235.5 L239.1 1235.5 L240.8 1235.6 L242.7 1235.6 L244.7 1235.6 L246.5 1235.6 L248.0 1235.5 L249.1 1235.4 L250.1 1235.2 L250.9 1235.0 L251.6 1234.7 L252.3 1234.4 L253.0 1234.0 L253.7 1233.5 L254.5 1233.0 L255.2 1232.4 L255.8 1231.7 L256.4 1230.9 L257.0 1230.0 L257.5 1228.9 L258.0 1227.7 L258.4 1226.3 L258.8 1224.9 L259.2 1223.4 L259.5 1222.0 L259.7 1220.6 L259.9 1219.2 L260.0 1217.8 L260.1 1216.3 L260.3 1214.7 L260.5 1213.0 L260.8 1211.1 L261.1 1209.0 L261.4 1206.9 L261.7 1204.6 L262.1 1202.3 L262.5 1200.0 L263.0 1197.5 L263.5 1194.9 L264.0 1192.2 L264.5 1189.6 L265.0 1187.1 L265.5 1185.0 L265.9 1183.5 L266.1 1182.5 L266.4 1181.8 L266.7 1180.8 L267.0 1179.2 L267.6 1176.6 L268.4 1172.7 L269.3 1167.9 L270.3 1162.4 L271.4 1156.7 L272.4 1151.2 L273.4 1146.2 L274.3 1141.8 L275.2 1137.6 L276.0 1133.6 L276.9 1129.7 L277.7 1125.8 L278.6 1121.8 L279.5 1117.7 L280.4 1113.7 L281.2 1109.6 L282.1 1105.5 L283.1 1101.5 L284.0 1097.4 L284.9 1093.3 L285.9 1089.3 L286.9 1085.2 L287.8 1081.2 L288.9 1077.2 L290.0 1073.1 L291.2 1069.0 L292.4 1065.0 L293.7 1060.9 L295.0 1056.8 L296.4 1052.8 L297.8 1048.7 L299.3 1044.6 L300.8 1040.3 L302.4 1036.1 L304.1 1032.0 L305.8 1028.1 L307.5 1024.4 L309.3 1021.2 L311.1 1018.5 L312.9 1015.9 L314.8 1013.2 L316.7 1010.3 L318.7 1006.8 L320.7 1002.6 L322.7 997.8 L324.8 992.7 L326.9 987.6 L329.1 982.6 L331.4 978.0 L333.7 973.8 L336.1 969.9 L338.6 966.1 L341.1 962.5 L343.7 958.8 L346.4 955.0 L349.2 951.2 L352.2 947.3 L355.2 943.5 L358.3 939.7 L361.3 935.8 L364.2 932.0 L366.9 928.2 L369.5 924.3 L372.1 920.5 L374.7 916.7 L377.4 912.8 L380.3 909.0 L383.5 905.0 L387.1 900.9 L390.8 896.7 L394.3 892.7 L397.7 889.1 L400.5 886.0 L402.7 883.6 L404.5 881.6 L406.0 880.1 L407.4 878.7 L408.9 877.3 L410.8 875.6 L413.1 873.7 L415.6 871.8 L418.2 869.9 L420.8 867.9 L423.5 866.0 L426.0 864.0 L428.4 862.1 L430.8 860.1 L433.2 858.1 L435.5 856.2 L437.7 854.2 L439.9 852.3 L442.0 850.3 L444.1 848.3 L446.1 846.3 L448.0 844.4 L449.7 842.5 L451.2 840.7 L452.3 839.0 L453.1 837.4 L453.7 835.9 L454.3 834.4 L454.9 832.9 L455.7 831.5 L456.8 830.1 L458.0 828.8 L459.3 827.6 L460.6 826.3 L461.8 825.1 L462.9 823.8 L463.8 822.5 L464.5 821.2 L465.2 819.9 L465.8 818.6 L466.5 817.3 L467.2 816.0 L468.0 814.7 L468.7 813.4 L469.5 812.1 L470.3 810.9 L471.2 809.6 L472.1 808.3 L473.1 807.0 L474.1 805.7 L475.2 804.4 L476.3 803.1 L477.4 801.8 L478.3 800.5 L479.1 799.2 L479.9 797.9 L480.6 796.6 L481.2 795.4 L482.0 794.1 L482.8 792.8 L483.6 791.6 L484.4 790.7 L485.2 789.7 L486.1 788.5 L487.4 787.0 L489.0 785.0 L491.1 782.4 L493.6 779.3 L496.4 775.8 L499.4 772.2 L502.3 768.5 L505.0 764.9 L507.6 761.4 L510.0 757.8 L512.5 754.2 L515.0 750.6 L517.6 746.9 L520.2 743.3 L523.0 739.7 L525.8 736.1 L528.8 732.4 L531.7 728.8 L534.6 725.2 L537.5 721.6 L540.4 717.8 L543.4 713.8 L546.5 709.8 L549.3 706.0 L551.9 702.7 L554.0 700.0 L555.4 698.3 L556.2 697.5 L556.7 697.2 L557.2 696.9 L558.2 696.1 L560.0 694.5 L562.7 691.9 L566.1 688.6 L569.9 684.8 L573.9 680.9 L577.9 677.1 L581.7 673.6 L585.1 670.5 L588.4 667.7 L591.6 664.9 L595.0 662.1 L598.8 659.1 L603.0 655.8 L607.8 652.1 L613.2 648.0 L618.8 643.7 L624.6 639.4 L630.4 635.3 L636.0 631.5 L641.4 628.1 L646.7 624.8 L652.1 621.8 L657.4 618.8 L662.7 615.8 L668.0 612.8 L673.5 609.7 L679.1 606.4 L684.8 603.2 L690.2 600.1 L695.4 597.2 L700.0 594.6 L704.0 592.4 L707.6 590.4 L710.8 588.7 L713.8 587.1 L716.8 585.5 L720.0 583.8 L723.4 582.0 L726.7 580.2 L730.1 578.5 L733.5 576.8 L736.8 575.2 L740.0 573.8 L742.9 572.8 L745.4 572.1 L747.9 571.5 L750.6 570.9 L753.9 569.9 L758.0 568.5 L763.2 566.4 L769.2 563.8 L775.8 560.9 L782.6 558.0 L789.4 555.1 L796.0 552.5 L802.4 550.2 L808.7 548.1 L815.1 546.1 L821.5 544.1 L827.8 542.2 L834.0 540.2 L840.1 538.2 L846.2 536.2 L852.2 534.2 L858.2 532.2 L864.1 530.3 L870.0 528.3 L875.8 526.3 L881.5 524.2 L887.1 522.2 L892.7 520.2 L898.4 518.3 L904.0 516.6 L909.7 515.0 L915.3 513.6 L921.0 512.3 L926.7 511.0 L932.3 509.8 L938.0 508.6 L943.7 507.4 L949.3 506.3 L955.0 505.2 L960.7 504.1 L966.3 503.1 L972.0 502.0 L977.7 500.9 L983.6 499.7 L989.4 498.6 L995.1 497.5 L1000.7 496.4 L1006.0 495.5 L1010.9 494.7 L1015.6 494.1 L1020.0 493.5 L1024.4 493.0 L1029.1 492.3 L1034.0 491.5 L1039.3 490.5 L1044.9 489.2 L1050.6 487.9 L1056.4 486.6 L1062.3 485.4 L1068.0 484.4 L1073.7 483.6 L1079.3 483.1 L1085.0 482.6 L1090.7 482.1 L1096.3 481.4 L1102.0 480.5 L1107.9 479.2 L1114.0 477.6 L1120.1 475.8 L1126.0 474.0 L1131.4 472.4 L1136.0 471.0 L1139.7 469.9 L1142.7 469.0 L1145.2 468.2 L1147.5 467.6 L1149.7 467.0 L1152.0 466.5 L1154.4 466.1 L1156.8 465.8 L1159.0 465.6 L1161.3 465.4 L1163.6 465.2 L1166.0 465.0 L1168.5 464.7 L1171.1 464.4 L1173.8 464.1 L1176.4 463.8 L1179.0 463.4 L1181.5 463.0 L1183.9 462.6 L1186.3 462.1 L1188.6 461.6 L1190.8 461.1 L1193.0 460.6 L1195.0 460.0 L1196.9 459.3 L1198.6 458.6 L1200.2 457.8 L1201.8 457.0 L1203.4 456.3 L1205.0 455.7 L1206.7 455.3 L1208.3 455.1 L1210.0 455.0 L1211.6 454.9 L1213.3 454.6 L1215.0 454.0 L1216.7 453.1 L1218.5 452.1 L1220.2 450.8 L1222.0 449.5 L1223.8 448.2 L1225.5 447.0 L1227.2 445.9 L1228.9 444.7 L1230.6 443.6 L1232.2 442.4 L1233.9 441.3 L1235.6 440.1 L1237.3 438.9 L1239.0 437.6 L1240.7 436.2 L1242.4 435.0 L1244.1 433.7 L1245.8 432.6 L1247.5 431.6 L1249.2 430.6 L1251.0 429.7 L1252.7 428.9 L1254.3 428.1 L1255.9 427.3 L1257.4 426.6 L1258.8 426.0 L1260.2 425.4 L1261.5 424.8 L1262.8 424.3 L1264.0 423.8 L1265.0 423.4 L1265.7 423.1 L1266.4 422.8 L1267.3 422.5 L1268.4 422.1 L1270.0 421.5 L1272.1 420.7 L1274.5 419.8 L1277.2 418.7 L1280.2 417.6 L1283.5 416.4 L1287.0 415.2 L1290.9 413.9 L1295.3 412.6 L1299.9 411.2 L1304.6 409.8 L1309.4 408.4 L1314.0 407.1 L1318.5 405.8 L1323.0 404.6 L1327.5 403.4 L1332.0 402.2 L1336.5 401.1 L1341.0 400.0 L1345.5 399.0 L1350.0 398.1 L1354.4 397.3 L1358.9 396.5 L1363.4 395.5 L1368.0 394.5 L1372.4 393.3 L1376.7 392.0 L1381.1 390.6 L1385.6 389.2 L1390.5 387.8 L1396.0 386.5 L1402.1 385.3 L1408.7 384.1 L1415.7 383.0 L1423.0 381.9 L1430.4 380.7 L1438.0 379.5 L1445.8 378.2 L1453.9 376.8 L1462.1 375.3 L1470.5 373.9 L1478.8 372.4 L1487.0 371.0 L1495.0 369.6 L1503.0 368.1 L1511.0 366.7 L1519.0 365.2 L1527.0 363.8 L1535.0 362.5 L1543.0 361.2 L1551.0 359.9 L1558.9 358.7 L1567.0 357.4 L1575.3 356.3 L1584.0 355.2 L1593.1 354.2 L1602.7 353.3 L1612.5 352.4 L1622.3 351.6 L1632.0 350.7 L1641.2 349.8 L1650.0 348.8 L1658.5 347.8 L1666.9 346.8 L1675.1 345.8 L1683.3 344.9 L1691.6 344.1 L1699.7 343.5 L1707.7 343.0 L1715.6 342.6 L1723.6 342.2 L1732.0 341.9 L1741.0 341.5 L1750.6 341.1 L1760.7 340.7 L1771.2 340.3 L1781.8 339.9 L1792.5 339.5 L1803.0 339.0 L1813.4 338.4 L1823.9 337.8 L1834.4 337.1 L1845.0 336.5 L1855.5 335.9 L1866.0 335.3 L1876.5 334.8 L1887.0 334.3 L1897.4 333.8 L1907.9 333.4 L1918.4 333.0 L1929.0 332.8 L1940.3 332.7 L1952.6 332.8 L1964.9 332.9 L1976.4 333.1 L1986.0 333.2 L1993.0 333.3" stroke="#008080"/>
</g>
<g>
<rect x="1587" y="357" width="10" height="288" fill="#000"/>
<rect x="1597" y="432.8" width="94" height="9.4" fill="#008080"/>
<rect x="1597" y="504.8" width="94" height="9" fill="#0000ff"/>
<rect x="1597" y="574" width="93" height="9" fill="#ff0000"/>
<rect x="1592" y="641.7" width="97" height="9.2" fill="#000"/>
</g>
<g filter="url(#crisp)">
<text transform="translate(1692.00,454.00) scale(1.0530,1)" font-size="60.00" text-anchor="start" fill="#008080">28d</text>
<text transform="translate(1700.00,523.00) scale(1.0530,1)" font-size="60.00" text-anchor="start" fill="#0000ff">7d</text>
<text transform="translate(1697.00,596.50) scale(1.0530,1)" font-size="60.00" text-anchor="start" fill="#ff0000">3d</text>
<text transform="translate(1700.50,657.00) scale(1.0530,1)" font-size="60.00" text-anchor="start" fill="#000">3h</text>
</g>
</svg></body></html>
